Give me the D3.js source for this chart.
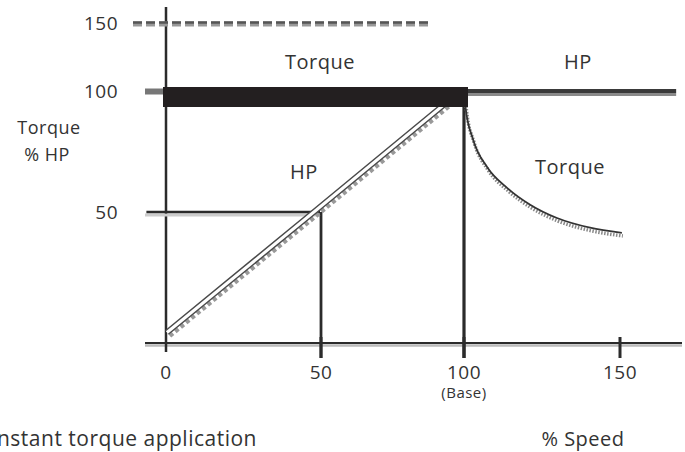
<!DOCTYPE html>
<html><head><meta charset="utf-8">
<script src="https://cdn.jsdelivr.net/npm/d3@7"></script>
<style>
html,body{margin:0;padding:0;background:#fff;}
text{font-family:"Open Sans",sans-serif;fill:#333;letter-spacing:0.5px;}
</style></head>
<body><svg id="c" width="685" height="452"></svg>
<script>
// ---- data ----
const xTicks = [0, 50, 100, 150];
const xTickLabels = ["0", "50", "100", "150"];
const yTicks = [50, 100, 150];
const yTickLabels = ["50", "100", "150"];
const baseSpeed = 100;
const maxLineTorque = 150;          // dashed 150% line
const maxLineEnd = 88;              // speed where dashed line ends
const hpPoints = [[0.3, 4], [47.7, 50], [98.8, 100]];          // HP rises to base speed
const torqueCurve = [[100, 100], [100.5, 93], [102.9, 80], [107.4, 68.6], [113.8, 60], [121.2, 53], [129.8, 47.7], [140.4, 44], [150.6, 42]];
const torqueFlat = [[0, 100], [baseSpeed, 100]];
const hpFlat = [[baseSpeed, 100], [168, 100]];
const ref50 = [[-6, 50], [50, 50]];

const svg = d3.select("#c");
const x = d3.scaleLinear().domain([0, 50, 100, 150]).range([166, 321, 464, 620]);
const y = d3.scaleLinear().domain([0, 50, 100, 150]).range([343, 212, 91, 23]);
const line = d3.line().x(d => x(d[0])).y(d => y(d[1]));
const curve = d3.line().x(d => x(d[0])).y(d => y(d[1])).curve(d3.curveMonotoneX);

// shadows of axes
svg.append("line").attr("x1", 145).attr("x2", 682).attr("y1", y(0) + 2.5).attr("y2", y(0) + 2.5)
  .attr("stroke", "#bbb").attr("stroke-width", 2.5);
// x axis
svg.append("line").attr("x1", 145).attr("x2", 682).attr("y1", y(0)).attr("y2", y(0))
  .attr("stroke", "#2b2b2b").attr("stroke-width", 2.2);
// y axis
svg.append("line").attr("x1", x(0)).attr("x2", x(0)).attr("y1", 7).attr("y2", 352)
  .attr("stroke", "#2b2b2b").attr("stroke-width", 2.5);

// x ticks
svg.selectAll(".xt").data(xTicks.slice(1)).join("line")
  .attr("x1", d => x(d)).attr("x2", d => x(d)).attr("y1", y(0) - 6).attr("y2", y(0) + 15)
  .attr("stroke", "#2b2b2b").attr("stroke-width", 3);

// 150 dashed line (two-tone)
svg.append("line").attr("x1", 133).attr("x2", x(maxLineEnd)).attr("y1", y(maxLineTorque) + 1).attr("y2", y(maxLineTorque) + 1)
  .attr("stroke", "#999").attr("stroke-width", 5).attr("stroke-dasharray", "9,4");
svg.append("line").attr("x1", 133).attr("x2", x(maxLineEnd)).attr("y1", y(maxLineTorque) - 0.5).attr("y2", y(maxLineTorque) - 0.5)
  .attr("stroke", "#555").attr("stroke-width", 2.5).attr("stroke-dasharray", "9,4");

// 50% reference lines
svg.append("line").attr("x1", 145).attr("x2", x(50)).attr("y1", y(50) + 3).attr("y2", y(50) + 3)
  .attr("stroke", "#ccc").attr("stroke-width", 3);
svg.append("path").attr("d", line(ref50)).attr("transform", "translate(-1,0)")
  .attr("fill", "none").attr("stroke", "#2b2b2b").attr("stroke-width", 2.5);
svg.append("line").attr("x1", x(50)).attr("x2", x(50)).attr("y1", y(50)).attr("y2", y(0) + 15)
  .attr("stroke", "#2b2b2b").attr("stroke-width", 2.8);

// base speed vertical
svg.append("line").attr("x1", x(baseSpeed)).attr("x2", x(baseSpeed)).attr("y1", y(100)).attr("y2", y(0) + 15)
  .attr("stroke", "#2b2b2b").attr("stroke-width", 3.2);

// HP diagonal (double line with hatch shadow)
svg.append("path").attr("d", line(hpPoints)).attr("transform", "translate(3,3.5)")
  .attr("fill", "none").attr("stroke", "#999").attr("stroke-width", 4).attr("stroke-dasharray", "4,3");
svg.append("path").attr("d", line(hpPoints))
  .attr("fill", "none").attr("stroke", "#4a4a4a").attr("stroke-width", 6);
svg.append("path").attr("d", line(hpPoints))
  .attr("fill", "none").attr("stroke", "#fff").attr("stroke-width", 3);

// constant HP torque curve
svg.append("path").attr("d", curve(torqueCurve)).attr("transform", "translate(1,3)")
  .attr("fill", "none").attr("stroke", "#888").attr("stroke-width", 3.5).attr("stroke-dasharray", "1.5,1.5");
svg.append("path").attr("d", curve(torqueCurve))
  .attr("fill", "none").attr("stroke", "#333").attr("stroke-width", 1.8);

// HP flat line right of base
svg.append("path").attr("d", line(hpFlat)).attr("transform", "translate(0,3.5)")
  .attr("fill", "none").attr("stroke", "#8a8a8a").attr("stroke-width", 3);
svg.append("path").attr("d", line(hpFlat))
  .attr("fill", "none").attr("stroke", "#3a3a3a").attr("stroke-width", 4.2);

// 100 stub at left
svg.append("line").attr("x1", 145).attr("x2", x(0)).attr("y1", y(100) + 0.5).attr("y2", y(100) + 0.5)
  .attr("stroke", "#777").attr("stroke-width", 6);

// constant torque thick bar
svg.append("rect").attr("x", x(torqueFlat[0][0]) - 3).attr("y", y(100) - 4)
  .attr("width", x(torqueFlat[1][0]) - x(torqueFlat[0][0]) + 7).attr("height", 20)
  .attr("fill", "#231f20");

// y tick labels
svg.selectAll(".yl").data(yTicks).join("text")
  .attr("x", 118).attr("y", d => y(d)).attr("dy", "0.35em").attr("text-anchor", "end")
  .attr("font-size", 19).text((d, i) => yTickLabels[i]);

// x tick labels
svg.selectAll(".xl").data(xTicks).join("text")
  .attr("x", d => x(d)).attr("y", 372).attr("dy", "0.35em").attr("text-anchor", "middle")
  .attr("font-size", 19).text((d, i) => xTickLabels[i]);
svg.append("text").attr("x", x(baseSpeed)).attr("y", 393).attr("dy", "0.35em").attr("text-anchor", "middle")
  .attr("font-size", 15).text("(Base)");

// region labels
const labels = [
  {t: "Torque", x: 320, y: 62, s: 20},
  {t: "HP", x: 578, y: 62, s: 20},
  {t: "HP", x: 304, y: 172, s: 20},
  {t: "Torque", x: 570, y: 167, s: 20},
  {t: "Torque", x: 49, y: 128, s: 18},
  {t: "% HP", x: 47, y: 155, s: 18}
];
svg.selectAll(".rl").data(labels).join("text")
  .attr("x", d => d.x).attr("y", d => d.y).attr("dy", "0.35em").attr("text-anchor", "middle")
  .attr("font-size", d => d.s).text(d => d.t);

svg.append("text").attr("x", 257).attr("y", 439).attr("dy", "0.35em").attr("text-anchor", "end")
  .attr("font-size", 21).text("Constant torque application");
svg.append("text").attr("x", 583).attr("y", 439).attr("dy", "0.35em").attr("text-anchor", "middle")
  .attr("font-size", 20).text("% Speed");
</script></body></html>
